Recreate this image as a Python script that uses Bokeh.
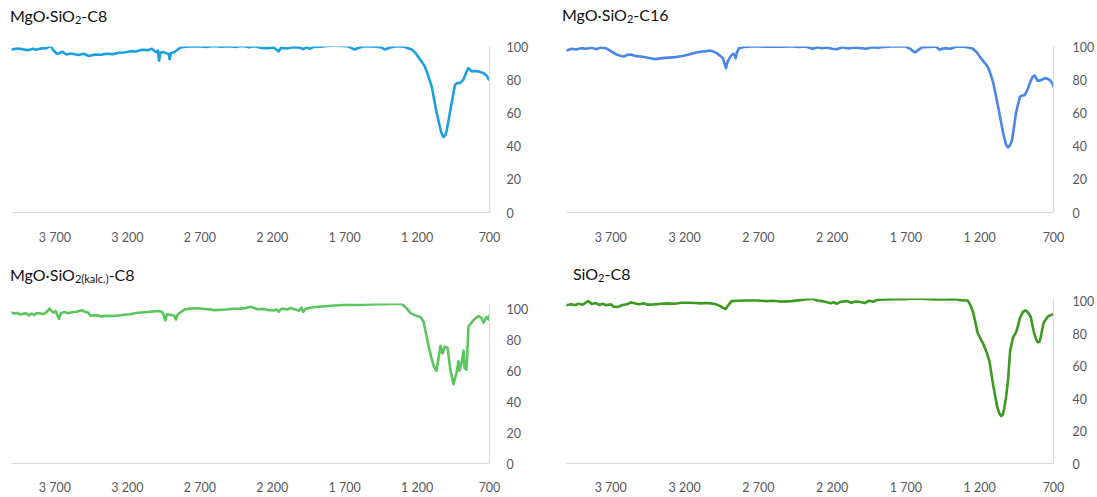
from bokeh.plotting import figure
from bokeh.layouts import row, column
from bokeh.models import Range1d, FixedTicker, Div
from bokeh.embed import file_html
from bokeh.resources import INLINE

# ---------------- data ----------------
x_ticks = [3700, 3200, 2700, 2200, 1700, 1200, 700]
x_tick_labels = ["3 700", "3 200", "2 700", "2 200", "1 700", "1 200", "700"]
y_ticks = [0, 20, 40, 60, 80, 100]

titles = [
    'MgO·SiO<span class="s">2</span>-C8',
    'MgO·SiO<span class="s">2</span>-C16',
    'MgO·SiO<span class="s">2(kalc.)</span>-C8',
    'SiO<span class="s">2</span>-C8',
]

wn_c8 = [4000, 3960, 3927, 3890, 3850, 3830, 3790, 3757, 3733, 3709, 3685, 3648, 3620, 3588, 3540,
         3500, 3466, 3420, 3380, 3345, 3300, 3260, 3224, 3180, 3140, 3102, 3060, 3029, 3005, 2990,
         2981, 2972, 2950, 2932, 2915, 2908, 2900, 2880, 2860, 2840, 2823, 2780, 2714, 2650, 2600,
         2550, 2496, 2450, 2400, 2360, 2326, 2280, 2229, 2190, 2156, 2140, 2100, 2060, 2011, 1985,
         1962, 1940, 1914, 1870, 1820, 1768, 1720, 1683, 1655, 1635, 1610, 1574, 1520, 1480, 1453,
         1421, 1380, 1340, 1290, 1237, 1210, 1179, 1150, 1133, 1099, 1064, 1034, 1019, 1005, 995,
         966, 938, 920, 903, 881, 860, 846, 823, 800, 777, 743, 720, 708, 700]
t_c8 = [98.2, 98.8, 98.4, 97.8, 98.6, 98.0, 98.9, 99.0, 100.4, 97.6, 95.5, 96.8, 95.2, 95.8, 94.9,
        95.6, 94.3, 95.2, 95.0, 95.6, 95.4, 96.2, 96.4, 97.2, 97.0, 98.0, 97.8, 98.6, 96.6, 97.5,
        91.5, 96.4, 96.6, 96.0, 95.5, 92.3, 96.0, 96.5, 97.6, 99.0, 99.6, 100.0, 100.2, 99.8, 100.3,
        99.9, 100.2, 99.8, 100.3, 99.6, 100.2, 99.2, 99.0, 99.4, 97.0, 99.2, 98.8, 99.6, 99.4, 98.4,
        99.6, 98.6, 99.8, 99.9, 100.4, 100.6, 100.3, 100.2, 99.2, 98.2, 99.0, 100.0, 100.2, 99.8, 99.6,
        98.2, 99.5, 100.2, 99.9, 98.2, 96.0, 92.1, 88.5, 85.0, 75.9, 59.7, 48.5, 45.5, 46.5, 49.5,
        63.7, 76.9, 78.2, 77.9, 79.9, 84.5, 87.0, 85.0, 85.2, 85.0, 84.0, 82.5, 80.5, 80.0]

wn_c16 = [4000, 3965, 3935, 3900, 3865, 3830, 3795, 3770, 3749, 3725, 3703, 3680, 3656, 3630, 3610,
          3585, 3563, 3530, 3493, 3450, 3400, 3350, 3307, 3260, 3215, 3170, 3121, 3080, 3050, 3029,
          3000, 2982, 2960, 2940, 2930, 2919, 2910, 2901, 2885, 2871, 2862, 2854, 2845, 2831, 2790,
          2750, 2703, 2650, 2600, 2550, 2500, 2471, 2420, 2380, 2331, 2300, 2270, 2238, 2200, 2169,
          2130, 2090, 2050, 2006, 1970, 1930, 1890, 1840, 1800, 1750, 1704, 1670, 1650, 1635, 1615,
          1589, 1540, 1495, 1472, 1450, 1425, 1400, 1355, 1300, 1249, 1220, 1195, 1165, 1142, 1125,
          1108, 1075, 1041, 1020, 1008, 995, 981, 954, 928, 910, 894, 874, 856, 841, 827,
          807, 790, 780, 754, 727, 710, 700]
t_c16 = [97.6, 98.6, 98.2, 99.0, 98.6, 99.2, 98.4, 99.4, 99.2, 98.6, 97.4, 96.2, 95.0, 94.3, 94.0,
         95.0, 95.2, 94.2, 94.0, 93.2, 92.4, 93.0, 93.3, 93.6, 94.3, 95.2, 96.4, 97.0, 97.2, 97.6,
         96.8, 96.0, 94.5, 93.0, 90.0, 86.9, 90.5, 92.0, 94.5, 95.6, 95.0, 93.0, 96.5, 99.0, 99.8,
         100.0, 100.0, 99.9, 100.1, 99.9, 100.0, 100.0, 99.8, 100.0, 98.6, 99.6, 99.0, 99.4, 98.6, 98.4,
         99.5, 98.8, 99.4, 99.0, 98.6, 99.6, 99.2, 99.8, 100.0, 100.0, 100.0, 98.6, 97.0, 96.6, 98.0,
         99.6, 99.8, 100.0, 98.0, 98.8, 99.0, 98.6, 100.0, 99.8, 98.8, 96.5, 93.3, 90.0, 87.2, 83.0,
         78.0, 63.5, 47.7, 40.5, 39.2, 40.5, 43.5, 60.0, 69.6, 70.5, 70.8, 74.5, 79.0, 81.8, 82.4,
         79.3, 79.6, 80.0, 81.0, 80.0, 78.0, 75.7]

wn_kalc = [4000, 3980, 3960, 3940, 3927, 3900, 3880, 3860, 3842, 3825, 3806, 3780, 3760, 3738, 3720,
           3709, 3695, 3685, 3672, 3660, 3636, 3610, 3580, 3550, 3515, 3490, 3471, 3454, 3420, 3380,
           3345, 3300, 3260, 3224, 3180, 3140, 3102, 3060, 3020, 2981, 2960, 2952, 2938, 2928, 2910,
           2890, 2877, 2865, 2855, 2848, 2825, 2800, 2760, 2714, 2670, 2630, 2600, 2568, 2520, 2470,
           2423, 2380, 2350, 2320, 2301, 2260, 2220, 2190, 2170, 2156, 2140, 2132, 2100, 2070, 2035,
           2015, 1999, 1987, 1970, 1938, 1900, 1850, 1800, 1768, 1720, 1670, 1620, 1570, 1525, 1480,
           1420, 1360, 1307, 1293, 1270, 1245, 1210, 1176, 1155, 1121, 1100, 1086, 1066, 1052, 1038,
           1024, 1010, 990, 969, 948, 928, 914, 907, 893, 879, 872, 859, 845, 810, 776,
           755, 741, 721, 707, 700]
t_kalc = [97.5, 96.8, 97.2, 96.2, 96.5, 97.0, 95.6, 96.8, 95.9, 97.2, 97.0, 96.4, 97.5, 100.0, 98.0,
          97.5, 98.5, 96.0, 93.4, 97.0, 97.9, 97.0, 97.6, 98.0, 99.0, 97.8, 97.5, 95.4, 95.8, 95.0,
          95.4, 95.2, 95.6, 96.0, 96.4, 97.2, 97.5, 97.8, 98.2, 98.5, 97.8, 96.5, 92.3, 96.3, 96.0,
          95.8, 95.4, 93.0, 96.0, 96.5, 98.2, 99.6, 100.0, 100.2, 99.8, 99.5, 99.0, 99.2, 99.4, 99.9,
          100.0, 100.4, 101.2, 100.2, 99.6, 99.8, 99.0, 98.8, 99.4, 97.9, 99.6, 100.0, 99.4, 100.4, 99.2,
          98.6, 100.6, 97.9, 99.8, 100.6, 101.0, 101.4, 101.8, 102.0, 102.3, 102.6, 102.3, 102.5, 102.7, 102.8,
          102.9, 103.1, 103.0, 102.0, 100.0, 97.1, 95.5, 94.6, 91.5, 76.0, 68.0, 63.0, 59.9, 67.9, 76.0,
          71.0, 75.4, 74.8, 59.9, 51.2, 58.6, 66.0, 59.9, 64.8, 72.9, 61.7, 60.5, 88.4, 92.7, 95.2,
          94.0, 90.9, 94.6, 93.0, 95.5]

wn_sio2 = [4000, 3970, 3940, 3918, 3890, 3870, 3853, 3830, 3800, 3780, 3755, 3730, 3700, 3680, 3651,
           3620, 3590, 3565, 3546, 3510, 3480, 3450, 3406, 3360, 3320, 3270, 3220, 3171, 3120, 3090,
           3057, 3020, 2987, 2960, 2940, 2922, 2905, 2882, 2840, 2780, 2708, 2650, 2600, 2550, 2474,
           2420, 2380, 2334, 2300, 2270, 2241, 2210, 2190, 2171, 2140, 2101, 2070, 2040, 2008, 1980,
           1950, 1920, 1890, 1840, 1780, 1720, 1657, 1600, 1540, 1480, 1423, 1400, 1360, 1307, 1282,
           1265, 1249, 1230, 1215, 1195, 1175, 1155, 1135, 1108, 1081, 1065, 1055, 1045, 1035, 1020,
           1008, 994, 974, 954, 940, 928, 908, 893, 881, 868, 854, 834, 815, 807, 795,
           787, 767, 740, 720, 700]
t_sio2 = [97.6, 98.2, 97.8, 98.6, 98.0, 99.2, 100.2, 98.4, 99.0, 97.8, 98.6, 97.6, 98.2, 96.8, 96.6,
          97.8, 98.2, 99.4, 99.0, 98.2, 98.8, 98.0, 98.2, 98.6, 98.8, 98.6, 99.2, 99.2, 99.0, 98.8,
          99.0, 98.8, 98.2, 97.2, 96.0, 95.3, 97.5, 100.2, 100.4, 100.6, 100.6, 100.2, 100.4, 99.9, 100.2,
          100.8, 101.2, 101.6, 100.6, 100.2, 99.6, 98.8, 99.6, 98.6, 99.8, 100.2, 99.2, 100.0, 99.6, 99.0,
          100.4, 99.8, 101.0, 101.2, 101.4, 101.4, 101.6, 101.6, 101.4, 101.2, 101.2, 101.4, 101.2, 100.6, 100.6,
          98.0, 94.6, 87.5, 80.8, 77.0, 73.6, 69.0, 63.5, 48.0, 34.7, 30.5, 29.3, 30.0, 33.5, 42.0,
          51.5, 69.5, 77.8, 80.8, 85.0, 89.8, 93.4, 94.4, 94.0, 92.5, 90.4, 81.4, 76.0, 74.8, 75.2,
          77.8, 86.8, 90.4, 91.5, 92.2]

colors = ["#1ba1e2", "#4a86e8", "#5bc55e", "#3b9b21"]

FONT = "Lato"
LABEL_COLOR = "#595959"
AXIS_COLOR = "#d9d9d9"


def make_panel(wn, t, color, width, height, bl, br, bt, bb, ymax, y_standoff, x_standoff):
    p = figure(width=width, height=height, title=None,
               x_range=Range1d(4000, 700), y_range=Range1d(0, ymax),
               y_axis_location="right", toolbar_location=None, output_backend="svg",
               min_border_left=bl, min_border_right=br, min_border_top=bt, min_border_bottom=bb)
    p.line(x=wn, y=t, line_color=color, line_width=2.6, line_join="round", line_cap="round")
    p.xgrid.visible = False
    p.ygrid.visible = False
    p.outline_line_color = None
    p.background_fill_color = "white"
    p.border_fill_color = "white"

    p.xaxis.ticker = FixedTicker(ticks=x_ticks)
    p.xaxis.major_label_overrides = {k: v for k, v in zip(x_ticks, x_tick_labels)}
    p.yaxis.ticker = FixedTicker(ticks=y_ticks)
    for ax in (p.xaxis, p.yaxis):
        ax.axis_line_color = AXIS_COLOR
        ax.axis_line_width = 1.2
        ax.major_tick_line_color = None
        ax.minor_tick_line_color = None
        ax.major_label_text_font = FONT
        ax.major_label_text_font_size = "12.5px"
        ax.major_label_text_color = LABEL_COLOR
    p.xaxis.major_label_standoff = x_standoff
    p.yaxis.major_label_standoff = y_standoff
    return p


def make_title(html, width, height, pad_left, pad_top):
    return Div(text=html, width=width, height=height, margin=(0, 0, 0, 0),
               stylesheets=[".s{font-size:11px;vertical-align:-2px;}"],
               styles={"font-family": FONT, "font-size": "16px", "color": "#111111",
                       "padding-left": f"{pad_left}px", "padding-top": f"{pad_top}px",
                       "line-height": "20px", "white-space": "nowrap"})


p1 = make_panel(wn_c8, t_c8, colors[0], 549, 214, 11, 60, 12, 36, 100, 11, 11)
p2 = make_panel(wn_c16, t_c16, colors[1], 548, 214, 17, 38, 12, 36, 100, 13, 11)
p3 = make_panel(wn_kalc, t_kalc, colors[2], 549, 209, 11, 60, 15, 28, 103.3, 11, 10)
p4 = make_panel(wn_sio2, t_sio2, colors[3], 548, 209, 17, 38, 10, 29, 101.8, 13, 10)

d1 = make_title(titles[0], 549, 34, 10, 6)
d2 = make_title(titles[1], 548, 34, 13, 5)
d3 = make_title(titles[2], 549, 40, 10, 17)
d4 = make_title(titles[3], 548, 40, 24, 16)

layout = column(row(column(d1, p1), column(d2, p2)),
                row(column(d3, p3), column(d4, p4)))

with open("out.html", "w") as f:
    f.write(file_html(layout, INLINE))
